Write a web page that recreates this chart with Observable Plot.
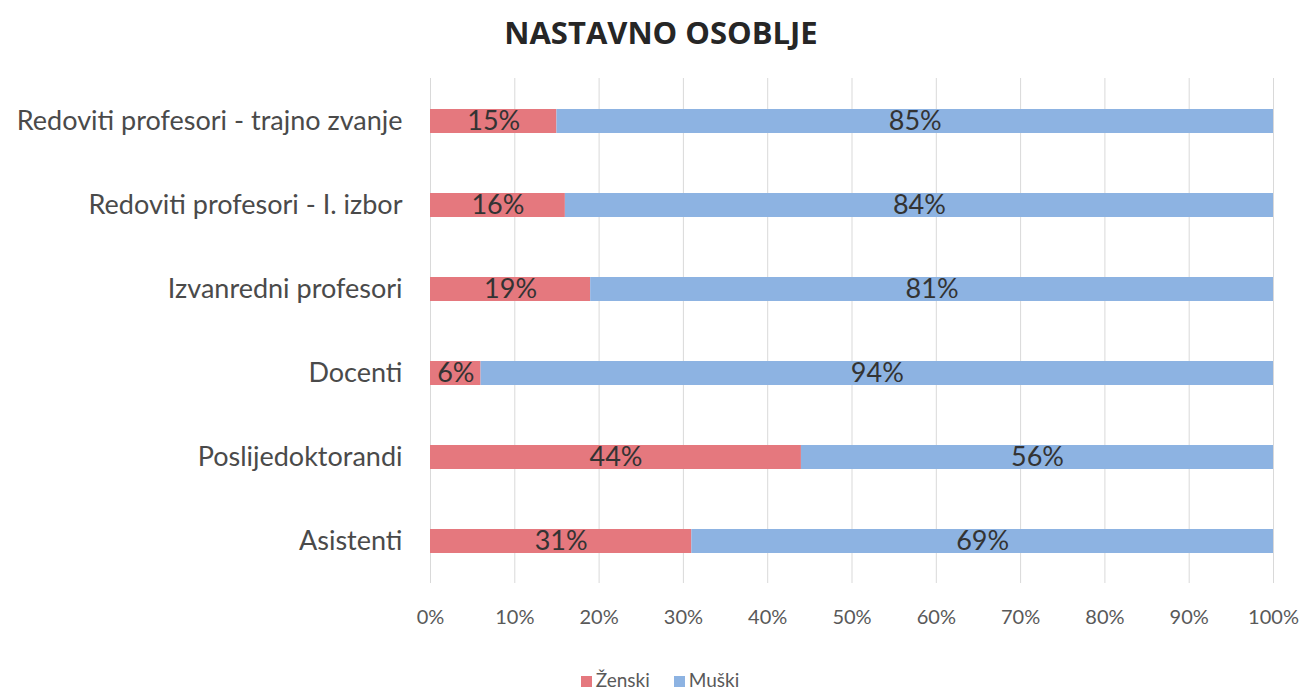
<!DOCTYPE html>
<html>
<head>
<meta charset="utf-8">
<script src="https://cdn.jsdelivr.net/npm/d3@7"></script>
<script src="https://cdn.jsdelivr.net/npm/@observablehq/plot@0.6"></script>
<style>
  html, body { margin: 0; padding: 0; background: #fff; }
  #wrap { position: relative; width: 1302px; height: 695px; overflow: hidden; }
  #title { position: absolute; top: 0; left: 0; width: 1302px; height: 64px; line-height: 64px; text-align: center;
    font-family: "Open Sans", sans-serif; font-weight: 700; font-size: 31px; color: #262626; padding-left: 20px; box-sizing: border-box; }
  #chart { position: absolute; top: 64px; left: 0; }
  #legend { position: absolute; top: 669px; left: 0; width: 1302px; height: 22px; line-height: 22px; text-align: center; font-family: Lato, sans-serif;
    font-size: 19px; color: #595959; padding-left: 18px; box-sizing: border-box; }
  #legend span.sw { display: inline-block; width: 11px; height: 11px; margin-right: 4px; vertical-align: 0px; }
  #legend span.item { margin: 0 12px; }
</style>
</head>
<body>
<div id="wrap">
  <div id="title">NASTAVNO OSOBLJE</div>
  <div id="chart"></div>
  <div id="legend"></div>
</div>
<script>
const categories = [
  "Redoviti profesori - trajno zvanje",
  "Redoviti profesori - I. izbor",
  "Izvanredni profesori",
  "Docenti",
  "Poslijedoktorandi",
  "Asistenti"
];
const zenski = [15, 16, 19, 6, 44, 31];
const muski = [85, 84, 81, 94, 56, 69];
const series = ["Ženski", "Muški"];
const colors = ["#e5787e", "#8db3e2"];
const xTicks = [0, 10, 20, 30, 40, 50, 60, 70, 80, 90, 100];

const data = categories.flatMap((c, i) => [
  {cat: c, s: series[0], v: zenski[i]},
  {cat: c, s: series[1], v: muski[i]}
]);

const plot = Plot.plot({
  width: 1302,
  height: 586,
  marginLeft: 430,
  marginRight: 29,
  marginTop: 14,
  marginBottom: 67,
  style: {fontFamily: "Lato, sans-serif", background: "#fff"},
  x: {domain: [0, 100], ticks: xTicks, tickFormat: d => d + "%", label: null},
  y: {domain: categories, padding: 0, label: null},
  color: {domain: series, range: colors},
  marks: [
    Plot.ruleX(xTicks, {stroke: "#d9d9d9", strokeWidth: 1}),
    Plot.barX(data, Plot.stackX({y: "cat", x: "v", fill: "s", z: "s", order: series, insetTop: 30, insetBottom: 30})),
    Plot.text(data, Plot.stackX({y: "cat", x: "v", z: "s", order: series, text: d => d.v + "%", fill: "#333", fontSize: 27, fontFamily: "Lato, sans-serif"})),
    Plot.axisX({ticks: xTicks, tickFormat: d => d + "%", tickSize: 0, tickPadding: 26, fontSize: 20, fill: "#595959", label: null}),
    Plot.axisY({tickSize: 0, tickPadding: 28, fontSize: 27, fill: "#4a4a4a", label: null})
  ]
});
document.getElementById("chart").appendChild(plot);

const leg = document.getElementById("legend");
series.forEach((s, i) => {
  const item = document.createElement("span");
  item.className = "item";
  const sw = document.createElement("span");
  sw.className = "sw";
  sw.style.background = colors[i];
  item.appendChild(sw);
  item.appendChild(document.createTextNode(s));
  leg.appendChild(item);
});
</script>
</body>
</html>
